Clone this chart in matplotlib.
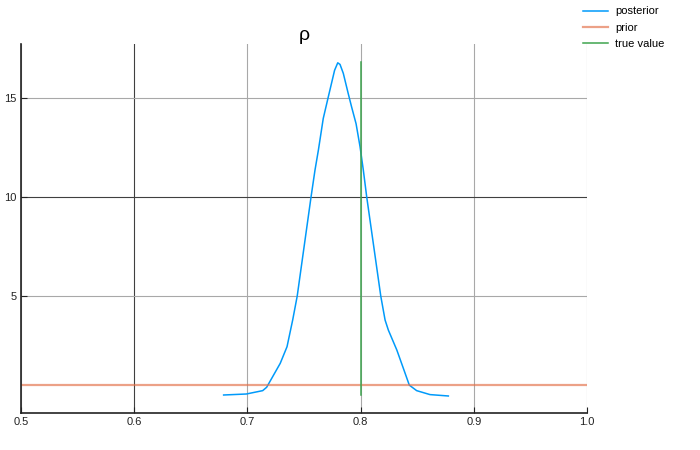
import matplotlib
matplotlib.use("Agg")
import matplotlib.pyplot as plt
import numpy as np

plt.rcParams['font.family'] = ['Liberation Sans', 'DejaVu Sans']

# posterior density
post_x = [0.679, 0.699, 0.7135, 0.717, 0.729, 0.735, 0.740, 0.744,
          0.7562, 0.7597, 0.7627, 0.767, 0.7715, 0.777, 0.7798, 0.7818, 0.7847,
          0.789, 0.792, 0.796, 0.7995, 0.8024, 0.8054, 0.8178, 0.8216, 0.8245,
          0.832, 0.8383, 0.843, 0.8495, 0.8613, 0.8775]
post_y = [0.0, 0.05, 0.22, 0.39, 1.6, 2.44, 3.79, 5.0,
          10.0, 11.36, 12.37, 13.97, 15.07, 16.4, 16.78, 16.7, 16.25,
          15.24, 14.56, 13.7, 12.54, 11.36, 10.0, 5.0, 3.79, 3.28,
          2.27, 1.26, 0.5, 0.22, 0.02, -0.05]
prior_x = [0.5, 1.0]
prior_y = [0.5, 0.5]
true_rho = 0.8
true_top = 16.8

fig = plt.figure(figsize=(7, 4.5), dpi=100)
ax = fig.add_axes([0.03, 0.0822, 0.8086, 0.82])

ax.plot(post_x, post_y, color='#009AFA', lw=1.1, label='posterior')
ax.plot(prior_x, prior_y, color='#E36F47', lw=1.6, alpha=0.65, label='prior')
ax.plot([true_rho, true_rho], [0, true_top], color='#3EA44E', lw=1.1, label='true value')

ax.set_xlim(0.5, 1.0)
ax.set_ylim(-0.91, 17.73)
ax.set_xticks([0.5, 0.6, 0.7, 0.8, 0.9, 1.0])
ax.set_xticklabels(['0.5', '0.6', '0.7', '0.8', '0.9', '1.0'])
ax.set_yticks([5, 10, 15])
ax.tick_params(direction='in', length=4, labelsize=8, pad=3, colors='#222222')
ax.grid(True, color='#a8a8a8', lw=0.8)
ax.set_axisbelow(True)
# a couple of grid lines come out darker in the original
ax.xaxis.get_gridlines()[1].set_color('#404040')
ax.yaxis.get_gridlines()[1].set_color('#404040')

for s in ['top', 'right']:
    ax.spines[s].set_visible(False)
for s in ['left', 'bottom']:
    ax.spines[s].set_color('#222222')
    ax.spines[s].set_linewidth(1.2)

ax.set_title('ρ', fontsize=14, pad=2)

fig.legend(loc='upper left', bbox_to_anchor=(0.818, 1.008), frameon=False,
           fontsize=8, handlelength=2.3, handletextpad=0.6, labelspacing=0.55)

fig.savefig('out.png', dpi=100)
